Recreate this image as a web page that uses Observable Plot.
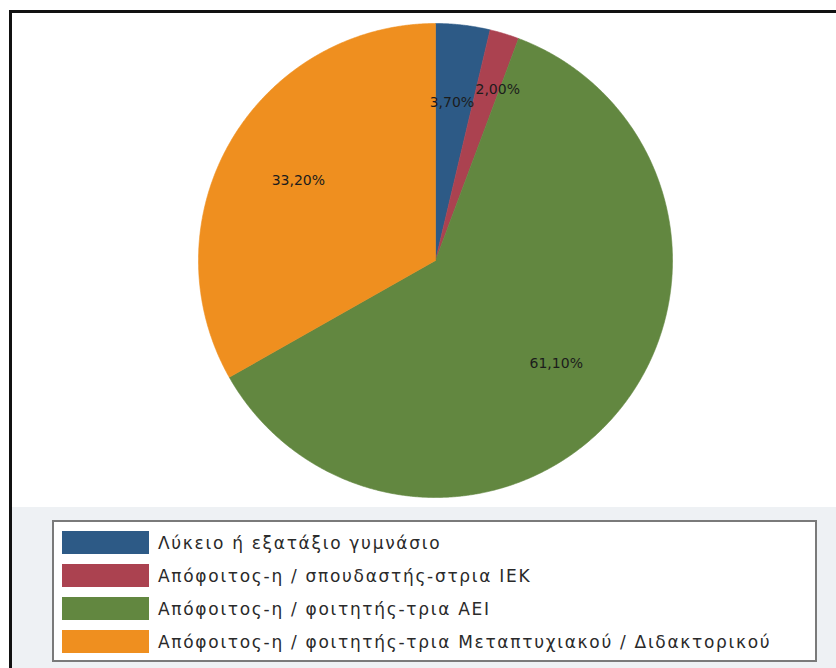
<!DOCTYPE html>
<html>
<head>
<meta charset="utf-8">
<script src="https://cdn.jsdelivr.net/npm/d3@7"></script>
<script src="https://cdn.jsdelivr.net/npm/@observablehq/plot@0.6"></script>
<style>
  html, body { margin: 0; padding: 0; }
  body { width: 836px; height: 668px; overflow: hidden; position: relative; background: #fff; font-family: "DejaVu Sans", Verdana, sans-serif; }
  #band { position: absolute; left: 12px; top: 507px; width: 824px; height: 161px; background: #eef1f4; }
  #chart { position: absolute; left: 0; top: 0; }
  #legend { position: absolute; left: 52px; top: 520px; width: 761px; height: 138px; background: #fff; border: 2px solid #7a7a7a; box-sizing: content-box; }
  .row { position: absolute; left: 8px; height: 23px; display: flex; align-items: center; }
  .sw { width: 87px; height: 23px; }
  .lab { margin-left: 9px; font-size: 17px; letter-spacing: 1.7px; color: #2a2a2a; white-space: nowrap; }
  #frame { position: absolute; left: 9px; top: 10px; width: 900px; height: 700px; border-left: 3px solid #111; border-top: 3px solid #111; }
</style>
</head>
<body>
<div id="band"></div>
<div id="chart"></div>
<div id="legend"></div>
<div id="frame"></div>
<script>
// ---- data ----
const categories = [
  "Λύκειο ή εξατάξιο γυμνάσιο",
  "Απόφοιτος-η / σπουδαστής-στρια ΙΕΚ",
  "Απόφοιτος-η / φοιτητής-τρια ΑΕΙ",
  "Απόφοιτος-η / φοιτητής-τρια Μεταπτυχιακού / Διδακτορικού"
];
const values = [3.7, 2.0, 61.1, 33.2];
const colors = ["#2d5a86", "#ab4250", "#628740", "#ef8f1f"];

// label nudges (style only, px)
const labelNudge = [[-2, 0], [16, -19], [0, 0], [0, 0]];

// ---- build slice geometry from values ----
const pie = d3.pie().sort(null).value(d => d.value);
const arcs = pie(categories.map((c, i) => ({cat: c, value: values[i], i})));

const pts = [];
arcs.forEach(a => {
  const n = Math.max(2, Math.ceil((a.endAngle - a.startAngle) / 0.005));
  pts.push({cat: a.data.cat, x: 0, y: 0});
  for (let k = 0; k <= n; k++) {
    const t = a.startAngle + (a.endAngle - a.startAngle) * k / n;
    pts.push({cat: a.data.cat, x: Math.sin(t), y: Math.cos(t)});
  }
  pts.push({cat: a.data.cat, x: 0, y: 0});
});

const fmt = v => d3.format(".2f")(v).replace(".", ",") + "%";
const labels = arcs.map(a => {
  const m = (a.startAngle + a.endAngle) / 2;
  const r = 0.67;
  return {x: r * Math.sin(m), y: r * Math.cos(m), text: fmt(a.data.value), dx: labelNudge[a.data.i][0], dy: labelNudge[a.data.i][1]};
});

const plot = Plot.plot({
  width: 836,
  height: 507,
  style: {background: "transparent"},
  x: {domain: [-1, 1], range: [198, 672], axis: null},
  y: {domain: [-1, 1], range: [497, 23], axis: null},
  color: {domain: categories, range: colors},
  marks: [
    Plot.line(pts, {x: "x", y: "y", z: "cat", fill: "cat", stroke: "cat", strokeWidth: 0.6, curve: "linear"}),
    ...labels.map(l => Plot.text([l], {x: "x", y: "y", text: "text", dx: l.dx, dy: l.dy, fill: "#1c1c1c", fontSize: 14, fontFamily: "DejaVu Sans, sans-serif"}))
  ]
});
document.getElementById("chart").appendChild(plot);

// ---- legend ----
const legend = document.getElementById("legend");
categories.forEach((c, i) => {
  const row = document.createElement("div");
  row.className = "row";
  row.style.top = (9 + i * 33) + "px";
  const sw = document.createElement("div");
  sw.className = "sw";
  sw.style.background = colors[i];
  const lab = document.createElement("span");
  lab.className = "lab";
  lab.textContent = c;
  row.appendChild(sw);
  row.appendChild(lab);
  legend.appendChild(row);
});
</script>
</body>
</html>
